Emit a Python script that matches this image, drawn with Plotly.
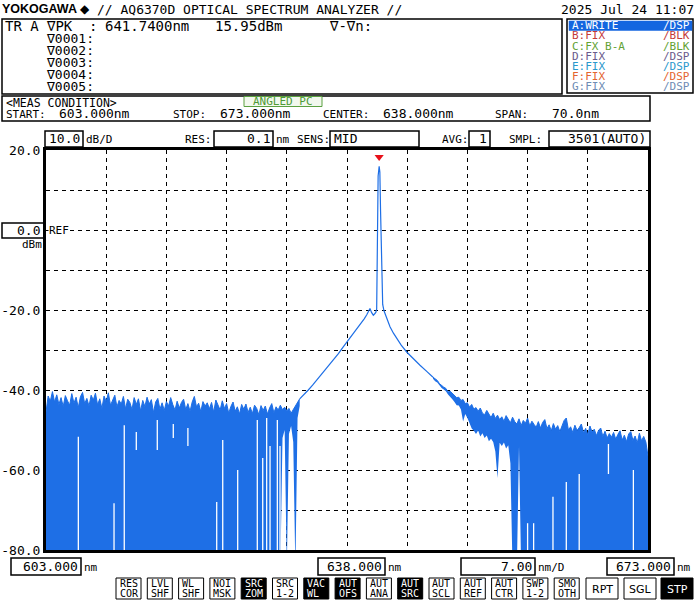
import plotly.graph_objects as go

STEP = 0.25  # sampling step of the hand-read envelopes, nm

# left noise floor: upper envelope from 603.0 nm (dBm)
left_top = [
    -45.5, -41.5, -42.8, -40.4,  -43.0, -41.2, -43.6, -41.9,  -44.1, -41.4, -42.7, -43.8,
    -40.9, -43.3, -41.8, -44.4,  -41.7, -40.6, -43.4, -42.1,  -44.0, -41.3, -42.5, -40.8,
    -43.7, -42.2, -44.6, -41.5,  -42.9, -40.7, -43.8, -42.4,  -41.3, -44.2, -42.6, -43.5,
    -41.6, -44.7, -42.3, -43.1,  -44.9, -41.9, -43.6, -42.2,  -45.2, -42.6, -44.1, -41.8,
    -43.5, -42.4, -45.6, -43.0,  -42.1, -44.8, -43.2, -45.1,  -42.9, -44.0, -41.9, -43.7,
    -45.0, -42.8, -44.5, -43.1,  -42.3, -44.9, -43.4, -45.3,  -43.0, -41.6, -44.2, -43.3,
    -45.4, -42.9, -44.0, -43.2,  -44.7, -43.1, -45.5, -42.5,  -43.9, -45.0, -42.7, -44.6,
    -43.4, -45.8, -44.1, -43.0,  -45.3, -44.2, -46.0, -43.6,  -44.8, -43.5, -45.6, -44.3,
    -45.9, -43.8, -44.6, -46.2,  -43.9, -45.1, -44.0, -46.0,  -44.5, -43.4, -45.7, -44.2,
    -45.0, -43.8, -44.9, -44.3,  -45.2, -44.6, -45.8, -44.9,  -43.9, -43.0, -42.2,
]
# left noise floor: lower envelope (-85 = trace falls below the screen)
left_bot = [-85.0] * 110 + [-52.0, -50.0, -85.0, -51.0, -49.0, -53.0, -85.0, -47.0, -44.0]

# right noise floor, from 648.0 nm
right_top = [
    -36.8, -37.3, -37.6, -38.4,  -38.9, -39.3, -39.6, -40.5,  -40.3, -40.8, -41.4, -41.9,
    -41.8, -42.6, -42.4, -43.4,  -43.2, -44.3, -43.6, -44.8,  -44.4, -45.3, -44.5, -45.8,
    -46.2, -45.1, -46.0, -46.9,  -45.8, -47.1, -46.3, -47.4,  -46.7, -47.8, -46.4, -47.5,
    -48.2, -46.8, -47.9, -48.5,  -47.2, -48.9, -47.6, -48.3,  -47.0, -49.0, -47.8, -48.6,
    -49.3, -47.9, -49.5, -48.1,  -47.4, -49.6, -48.7, -50.2,  -48.4, -49.8, -48.9, -50.4,
    -49.1, -47.6, -47.0, -50.0,  -49.2, -50.6, -48.8, -50.1,  -49.4, -48.5, -50.7, -49.6,
    -51.2, -49.0, -50.5, -49.8,  -51.4, -50.1, -49.5, -51.6,  -50.3, -52.0, -50.9, -51.8,
    -50.6, -52.3, -51.1, -50.2,  -52.5, -51.3, -52.9, -51.0,  -50.4, -52.6, -51.5, -53.2,
    -50.8, -52.7, -51.6, -53.0,  -56.5,
]
right_bot = [
    -37.2, -37.8, -38.1, -38.9,  -39.5, -39.9, -40.3, -41.1,  -41.6, -42.3, -43.0, -43.8,
    -43.9, -44.9, -47.9, -46.0,  -47.0, -48.3, -49.6, -50.2,  -51.0, -50.1, -51.6, -50.8,
    -52.0, -51.4, -52.8, -52.2,  -53.0, -55.4, -62.0, -53.2,  -54.0, -53.1, -54.6, -53.8,
    -58.3, -85.0, -85.0, -85.0,  -54.0, -85.0, -85.0, -85.0,
] + [-85.0] * 57

# the laser line itself
center_wl = [632.5, 633.0, 633.5, 634.0, 634.5, 635.0, 635.5, 636.0, 636.5, 637.0, 637.5,
             638.0, 638.5, 639.0, 639.5, 640.0, 640.3, 640.5, 640.67, 640.85, 641.06, 641.2,
             641.35, 641.45, 641.50, 641.55, 641.62, 641.74, 641.82, 641.90, 641.98, 642.05,
             642.15, 642.3, 642.62, 643.0, 643.4, 643.78, 644.3, 644.94, 645.6, 646.49,
             647.3, 648.0]
center_lv = [-42.2, -41.2, -40.0, -38.8, -37.5, -36.2, -35.0, -33.7, -32.3, -30.9, -29.4,
             -28.0, -26.6, -25.1, -23.6, -22.2, -21.2, -20.4, -19.6, -20.6, -21.3, -21.0,
             -20.6, -19.8, -10.0, 4.0, 13.5, 15.95, 14.5, 5.0, -4.5, -12.0,
             -18.6, -20.2, -22.3, -24.2, -25.8, -27.1, -28.8, -30.5, -32.0, -33.8,
             -35.4, -36.8]

# white columns where the noise does not reach down
gap_wl = [606.76, 610.91, 612.10, 613.50, 615.94, 617.80, 619.50, 622.85, 623.55, 625.29,
          627.57, 628.20, 628.66, 629.05, 629.90, 630.21, 659.00, 659.70, 661.95, 663.50,
          665.00, 668.40, 671.30]
gap_top = [-51.7, -68.3, -48.8, -50.5, -47.5, -48.5, -49.5, -68.0, -52.5, -60.0,
           -47.5, -57.0, -47.0, -54.0, -47.5, -54.0, -73.3, -73.3, -66.7, -63.0,
           -61.0, -53.5, -60.0]
gap_bot = [-85, -85, -85, -55, -55, -52, -54, -85, -85, -85,
           -85, -85, -85, -85, -85, -85, -85, -85, -85, -85,
           -85, -61, -85]

peak_wl, peak_lv = 641.74, 15.95

y_ticks = [20, 10, 0, -10, -20, -30, -40, -50, -60, -70, -80]
y_text = ["20.0", "", "", "", "-20.0", "", "-40.0", "", "-60.0", "", "-80.0"]

left_wl = [603.0 + STEP * i for i in range(len(left_top))]
right_wl = [648.0 + STEP * i for i in range(len(right_top))]

# ---------------- styling / layout helpers ----------------
BLUE = "#1e6fe6"
MONO = "DejaVu Sans Mono"
SANS = "DejaVu Sans"
W, H = 699, 601
L, R, T, B = 46, 648, 150, 550


def px(x):
    return (x - L) / (R - L)


def py(y):
    return (B - y) / (B - T)


annotations = []
shapes = []


def txt(x, y, s, size=13, color="black", anchor="left", font=MONO, bg=None):
    d = dict(x=px(x), y=py(y), xref="paper", yref="paper", text=s, showarrow=False,
             xanchor=anchor, yanchor="middle", borderpad=0,
             font=dict(family=font, size=size, color=color))
    if bg:
        d["bgcolor"] = bg
    annotations.append(d)


def rect(x0, y0, x1, y1, fill=None, color="black", width=1):
    shapes.append(dict(type="rect", xref="paper", yref="paper",
                       x0=px(x0), x1=px(x1), y0=py(y1), y1=py(y0),
                       line=dict(color=color, width=width),
                       fillcolor=fill if fill else "rgba(0,0,0,0)", layer="above"))


# ---------------- traces ----------------
fig = go.Figure()
fig.add_trace(go.Scatter(x=left_wl, y=left_bot, mode="lines", line=dict(width=0),
                         hoverinfo="skip", showlegend=False))
fig.add_trace(go.Scatter(x=left_wl, y=left_top, mode="lines", line=dict(color=BLUE, width=1),
                         fill="tonexty", fillcolor=BLUE, showlegend=False))
fig.add_trace(go.Scatter(x=right_wl, y=right_bot, mode="lines", line=dict(width=0),
                         hoverinfo="skip", showlegend=False))
fig.add_trace(go.Scatter(x=right_wl, y=right_top, mode="lines", line=dict(color=BLUE, width=1),
                         fill="tonexty", fillcolor=BLUE, showlegend=False))
fig.add_trace(go.Scatter(x=center_wl, y=center_lv, mode="lines",
                         line=dict(color=BLUE, width=1.2), showlegend=False))

gx, gy = [], []
for w, t, b in zip(gap_wl, gap_top, gap_bot):
    gx += [w, w, None]
    gy += [t, b, None]
fig.add_trace(go.Scatter(x=gx, y=gy, mode="lines", line=dict(color="white", width=1.3),
                         hoverinfo="skip", showlegend=False))

fig.add_trace(go.Scatter(x=[peak_wl], y=[peak_lv + 2.3], mode="markers",
                         marker=dict(symbol="triangle-down", color="#e8101a", size=8,
                                     line=dict(width=0)), showlegend=False))

# ---------------- header ----------------
txt(1, 9, "<b>YOKOGAWA</b>", size=12.5, font="Liberation Sans")
txt(79, 9, "◆", size=12, font=SANS)
txt(96, 9, "// AQ6370D OPTICAL SPECTRUM ANALYZER //", size=13)
txt(695, 9, "2025 Jul 24 11:07", size=13, anchor="right")

# marker box
rect(2, 19, 562, 94, width=1.5)
txt(4, 26, "TR A", size=14)
txt(45, 26, "∇PK", size=14)
txt(88, 26, ":", size=14)
txt(104, 26, "641.7400nm", size=14)
txt(214, 26, "15.95dBm", size=14)
txt(328, 26, "∇-∇n:", size=14)
for i, lab in enumerate(["∇0001:", "∇0002:", "∇0003:", "∇0004:", "∇0005:"]):
    txt(45, 38.5 + 12 * i, lab, size=13)

# trace legend box
rect(567, 19, 693, 93, width=1.5)
rect(569, 21, 692, 30.5, fill="#1466e0", color="#1466e0", width=0.5)
legend_rows = [("A:WRITE", "/DSP", "white"), ("B:FIX", "/BLK", "#c43a3a"),
               ("C:FX B-A", "/BLK", "#62a234"), ("D:FIX", "/DSP", "#6a5a8c"),
               ("E:FIX", "/DSP", "#2a98cc"), ("F:FIX", "/DSP", "#e4642f"),
               ("G:FIX", "/DSP", "#6e8cb4")]
for i, (a, b, c) in enumerate(legend_rows):
    yy = 25.8 + 10.1 * i
    txt(571, yy, a, size=11, color=c)
    txt(691, yy, b, size=11, color=c, anchor="right")

# measurement condition box
rect(2, 96, 650, 121, width=1.5)
txt(5, 102.5, "&lt;MEAS CONDITION&gt;", size=11.5)
rect(244, 96.5, 322, 106.5, fill="#f2f8ee", color="#5aa040", width=1)
txt(283, 101.5, "ANGLED PC", size=11, color="#4f9a36", anchor="center")
txt(5, 114.5, "START:", size=11)
txt(58, 114, "603.000nm", size=13)
txt(172, 114.5, "STOP:", size=11)
txt(219, 114, "673.000nm", size=13)
txt(322, 114.5, "CENTER:", size=11)
txt(382, 114, "638.000nm", size=13)
txt(494, 114.5, "SPAN:", size=11)
txt(551, 114, "70.0nm", size=13)

# settings row
rect(45, 131, 83, 147, width=1.5)
txt(81, 139, "10.0", size=13, anchor="right")
txt(85, 139.5, "dB/D", size=11)
txt(184, 139.5, "RES:", size=11)
rect(214, 131, 273, 147, width=1.5)
txt(271, 139, "0.1", size=13, anchor="right")
txt(275, 139.5, "nm", size=11)
txt(296, 139.5, "SENS:", size=11)
rect(330, 131, 419, 147, width=1.5)
txt(333, 139, "MID", size=13)
txt(441, 139.5, "AVG:", size=11)
rect(469, 131, 490, 147, width=1.5)
txt(488, 139, "1", size=13, anchor="right")
txt(508, 139.5, "SMPL:", size=11)
rect(549, 131, 650, 147, width=1.5)
txt(647, 139, "3501(AUTO)", size=13, anchor="right")

# reference level box
rect(2, 223, 44, 238, width=1.5)
txt(41, 230.5, "0.0", size=13, anchor="right")
txt(48, 230.5, "REF", size=11, bg="white")
txt(43, 244, "dBm", size=11, anchor="right")

# bottom wavelength row
for x0, x1, val, unit in [(11, 81, "603.000", "nm"), (318, 385, "638.000", "nm"),
                          (461, 535, "7.00", "nm/D"), (607, 674, "673.000", "nm")]:
    rect(x0, 558, x1, 575, width=1.5)
    txt(x1 - 2, 566.5, val, size=13, anchor="right")
    txt(x1 + 2, 567, unit, size=11)

# soft-key buttons
buttons = [("RES", "COR", False), ("LVL", "SHF", False), ("WL", "SHF", False),
           ("NOI", "MSK", False), ("SRC", "ZOM", True), ("SRC", "1-2", False),
           ("VAC", "WL", True), ("AUT", "OFS", True), ("AUT", "ANA", False),
           ("AUT", "SRC", True), ("AUT", "SCL", False), ("AUT", "REF", False),
           ("AUT", "CTR", False), ("SWP", "1-2", False), ("SMO", "OTH", False)]
for i, (a, b, dark) in enumerate(buttons):
    x0 = 116 + 31.3 * i
    rect(x0, 578, x0 + 25, 599, fill="black" if dark else "white", width=1)
    col = "white" if dark else "black"
    txt(x0 + 2.5, 583.5, a, size=10, color=col)
    txt(x0 + 2.5, 593.5, b, size=10, color=col)
for x0, lab, dark in [(586, "RPT", False), (624, "SGL", False), (661, "STP", True)]:
    rect(x0, 578, x0 + 32, 599, fill="black" if dark else "white", width=1)
    txt(x0 + 16, 589, lab, size=11, font=SANS, color="white" if dark else "black",
        anchor="center")

# ---------------- axes ----------------
fig.update_layout(
    width=W, height=H,
    margin=dict(l=L, r=W - R, t=T, b=H - B, pad=0, autoexpand=False),
    paper_bgcolor="white", plot_bgcolor="white",
    showlegend=False,
    annotations=annotations, shapes=shapes,
    xaxis=dict(range=[603, 673], tick0=603, dtick=7, showgrid=True, gridcolor="black",
               gridwidth=1, griddash="4px,4px", showticklabels=False, ticks="",
               showline=True, linecolor="black", linewidth=3, mirror=True, zeroline=False,
               automargin=False),
    yaxis=dict(range=[-80, 20], tickvals=y_ticks, ticktext=y_text, showgrid=True,
               gridcolor="black", gridwidth=1, griddash="4px,4px", ticks="",
               tickfont=dict(family=MONO, size=13, color="black"),
               showline=True, linecolor="black", linewidth=3, mirror=True, zeroline=False,
               automargin=False),
)

fig.write_html("out.html", config={"displayModeBar": False},
               post_script="document.body.style.margin='0';document.body.style.overflow='hidden';")
